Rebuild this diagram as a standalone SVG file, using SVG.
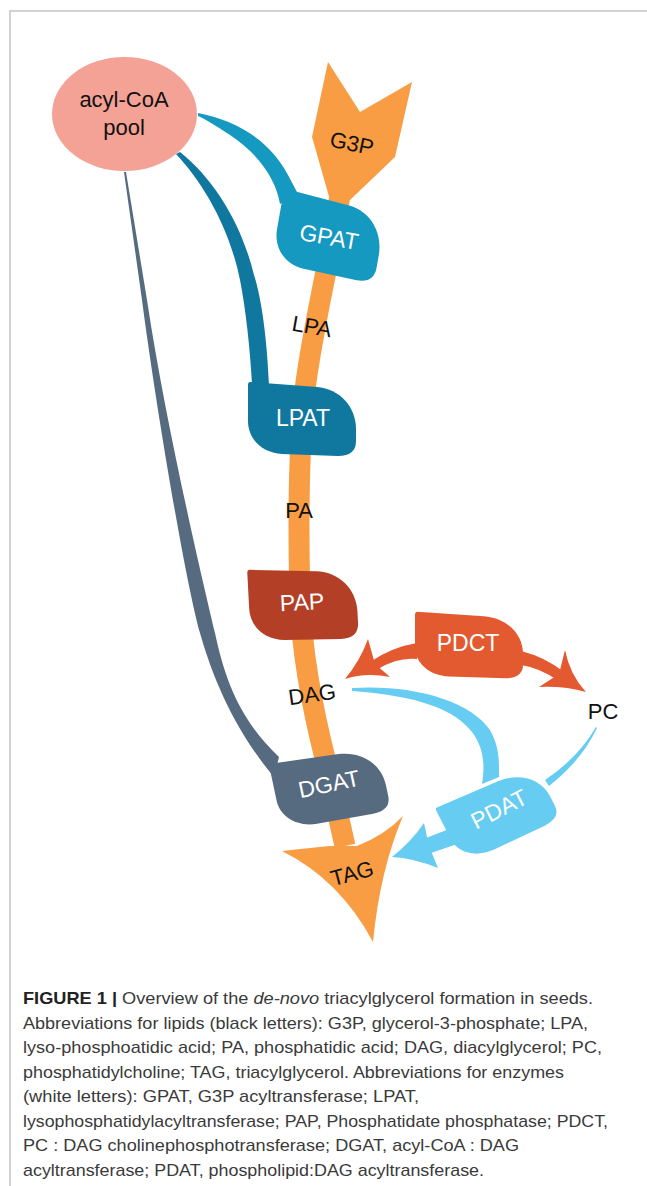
<svg xmlns="http://www.w3.org/2000/svg" xmlns:xlink="http://www.w3.org/1999/xlink" width="647" height="1186" viewBox="0 0 647 1186">
<style>
.lbl{font-family:"Liberation Sans",Arial,sans-serif;font-size:22px;fill:#111;text-anchor:middle}
.enz{font-family:"Liberation Sans",Arial,sans-serif;font-size:23px;fill:#fff;text-anchor:middle}
.cap{font-family:"Liberation Sans",Arial,sans-serif;font-size:17px;fill:#3a3a3a}
.orange{fill:#f89d43}
</style>
<defs>
<path id="enzshape" d="M-52,-37 L15,-32 C38,-30 54,-12 54,10 L54,22 Q54,37 36,37 L-20,35 C-40,34 -54,20 -54,2 L-54,-34 Q-54,-37 -52,-37 Z"/>
</defs>
<rect width="647" height="1186" fill="#fff"/>
<path d="M10,1186 L10,11 L647,11" fill="none" stroke="#c4c4c4" stroke-width="1.5"/>

<g id="connectors">
  <!-- main orange pathway -->
  <path d="M340,195 C330,260 312,330 305,390 C298,450 298,520 300,600 C302,660 315,720 328,770 L345,846" fill="none" stroke="#f89d43" stroke-width="21"/>
  <!-- acyl-CoA to GPAT -->
  <path d="M198,113 C235,120 270,140 288,175 L298,194 L280,204 C276,180 260,155 230,135 C215,125 205,119 198,116 Z" fill="#1699c0"/>
  <!-- acyl-CoA to LPAT -->
  <path d="M176,154 C205,185 230,230 240,280 C246,310 250,350 252,384 L269,385 C267,340 262,300 254,275 C242,225 215,180 180,152 Z" fill="#10789f"/>
  <!-- acyl-CoA to DGAT -->
  <path d="M124,172 L142,300 C155,400 185,580 200,633 C210,668 230,725 274,777 L279,757 C240,720 225,680 215,633 C200,570 165,420 147,300 L126,172 Z" fill="#566a80"/>
  <!-- PDCT to DAG -->
  <path d="M417,643 Q392,647 370,662 L378,669 Q398,657 417,659 Z" fill="#e45a30"/>
  <path d="M345,679 Q360,661 368,639 L375,664 L390,677 Q366,672 345,679 Z" fill="#e45a30"/>
  <!-- PDCT to PC -->
  <path d="M521,651 Q545,657 564,672 L557,680 Q540,668 521,665 Z" fill="#e45a30"/>
  <path d="M586,692 Q570,675 565,650 L559,674 L539,687 Q565,686 586,692 Z" fill="#e45a30"/>
  <!-- DAG to PDAT -->
  <path d="M352,688 C410,684 470,700 490,730 C500,748 499,762 499,777 L482,784 C485,765 484,748 472,732 C455,710 420,696 352,691 Z" fill="#67ccf2"/>
  <!-- PC to PDAT -->
  <path d="M596,727 Q578,758 545,780 L549,786 Q582,760 597,728 Z" fill="#67ccf2"/>
  <!-- PDAT to TAG -->
  <path d="M462,824 L426,838 L431,853 L466,841 Z" fill="#67ccf2"/>
  <path d="M392,857 Q411,842 424,823 L429,846 L438,868 Q413,858 392,857 Z" fill="#67ccf2"/>
</g>

<g id="node-acyl-coa">
  <ellipse cx="124.5" cy="114" rx="72.5" ry="57" fill="#f4a196"/>
  <text class="lbl" x="124" y="107" font-size="24">acyl-CoA</text>
  <text class="lbl" x="124" y="135" font-size="24">pool</text>
</g>

<g id="node-g3p">
  <polygon class="orange" points="328,62 360,112 412,82 395,157 350,200 330,200 312,137"/>
  <text class="lbl" transform="translate(352,143) rotate(12)" y="8">G3P</text>
</g>

<g id="node-gpat">
  <use xlink:href="#enzshape" href="#enzshape" transform="translate(329,236) rotate(10) scale(0.97,1.05)" fill="#1699c0"/>
  <text class="enz" transform="translate(329,237) rotate(10)" y="8">GPAT</text>
</g>

<g id="node-lpa">
  <text class="lbl" transform="translate(312,326) rotate(10)" y="8">LPA</text>
</g>

<g id="node-lpat">
  <use xlink:href="#enzshape" href="#enzshape" transform="translate(302,419)" fill="#10789f"/>
  <text class="enz" x="303" y="426">LPAT</text>
</g>

<g id="node-pa">
  <text class="lbl" x="299" y="518">PA</text>
</g>

<g id="node-pap">
  <use xlink:href="#enzshape" href="#enzshape" transform="translate(303,604) rotate(-3)" fill="#b33f27"/>
  <text class="enz" transform="translate(302,602) rotate(-3)" y="8">PAP</text>
</g>

<g id="node-pdct">
  <use xlink:href="#enzshape" href="#enzshape" transform="translate(469,645) scale(1,0.9)" fill="#e45a30"/>
  <text class="enz" x="468" y="651">PDCT</text>
</g>

<g id="node-dag">
  <text class="lbl" transform="translate(312,694) rotate(-8)" y="8">DAG</text>
</g>

<g id="node-pc">
  <text class="lbl" x="603" y="719">PC</text>
</g>

<g id="node-dgat">
  <use xlink:href="#enzshape" href="#enzshape" transform="translate(330,787) rotate(-12) scale(1.02,0.95)" fill="#566a80"/>
  <text class="enz" transform="translate(329,784) rotate(-12)" y="8">DGAT</text>
</g>

<g id="node-pdat">
  <use xlink:href="#enzshape" href="#enzshape" transform="translate(498,813) rotate(-27) scale(1,0.88)" fill="#67ccf2"/>
  <text class="enz" transform="translate(499,809) rotate(-27)" y="8">PDAT</text>
</g>

<g id="node-tag">
  <path class="orange" d="M282,851 Q310,848 330,846 L357,846 Q385,835 403,816 Q380,870 373,942 Q340,880 282,851 Z"/>
  <text class="lbl" transform="translate(352,873) rotate(-15)" y="8">TAG</text>
</g>

<g id="caption">
  <text class="cap" x="23" y="1004" textLength="570" lengthAdjust="spacingAndGlyphs"><tspan font-weight="bold" fill="#222">FIGURE 1 |</tspan> Overview of the <tspan font-style="italic">de-novo</tspan> triacylglycerol formation in seeds.</text>
  <text class="cap" x="23" y="1028.5" textLength="565" lengthAdjust="spacingAndGlyphs">Abbreviations for lipids (black letters): G3P, glycerol-3-phosphate; LPA,</text>
  <text class="cap" x="23" y="1053" textLength="579" lengthAdjust="spacingAndGlyphs">lyso-phosphoatidic acid; PA, phosphatidic acid; DAG, diacylglycerol; PC,</text>
  <text class="cap" x="23" y="1077.5" textLength="541" lengthAdjust="spacingAndGlyphs">phosphatidylcholine; TAG, triacylglycerol. Abbreviations for enzymes</text>
  <text class="cap" x="23" y="1102" textLength="396" lengthAdjust="spacingAndGlyphs">(white letters): GPAT, G3P acyltransferase; LPAT,</text>
  <text class="cap" x="23" y="1126.5" textLength="585" lengthAdjust="spacingAndGlyphs">lysophosphatidylacyltransferase; PAP, Phosphatidate phosphatase; PDCT,</text>
  <text class="cap" x="23" y="1151" textLength="496" lengthAdjust="spacingAndGlyphs">PC : DAG cholinephosphotransferase; DGAT, acyl-CoA : DAG</text>
  <text class="cap" x="23" y="1175.5" textLength="461" lengthAdjust="spacingAndGlyphs">acyltransferase; PDAT, phospholipid:DAG acyltransferase.</text>
</g>
</svg>
